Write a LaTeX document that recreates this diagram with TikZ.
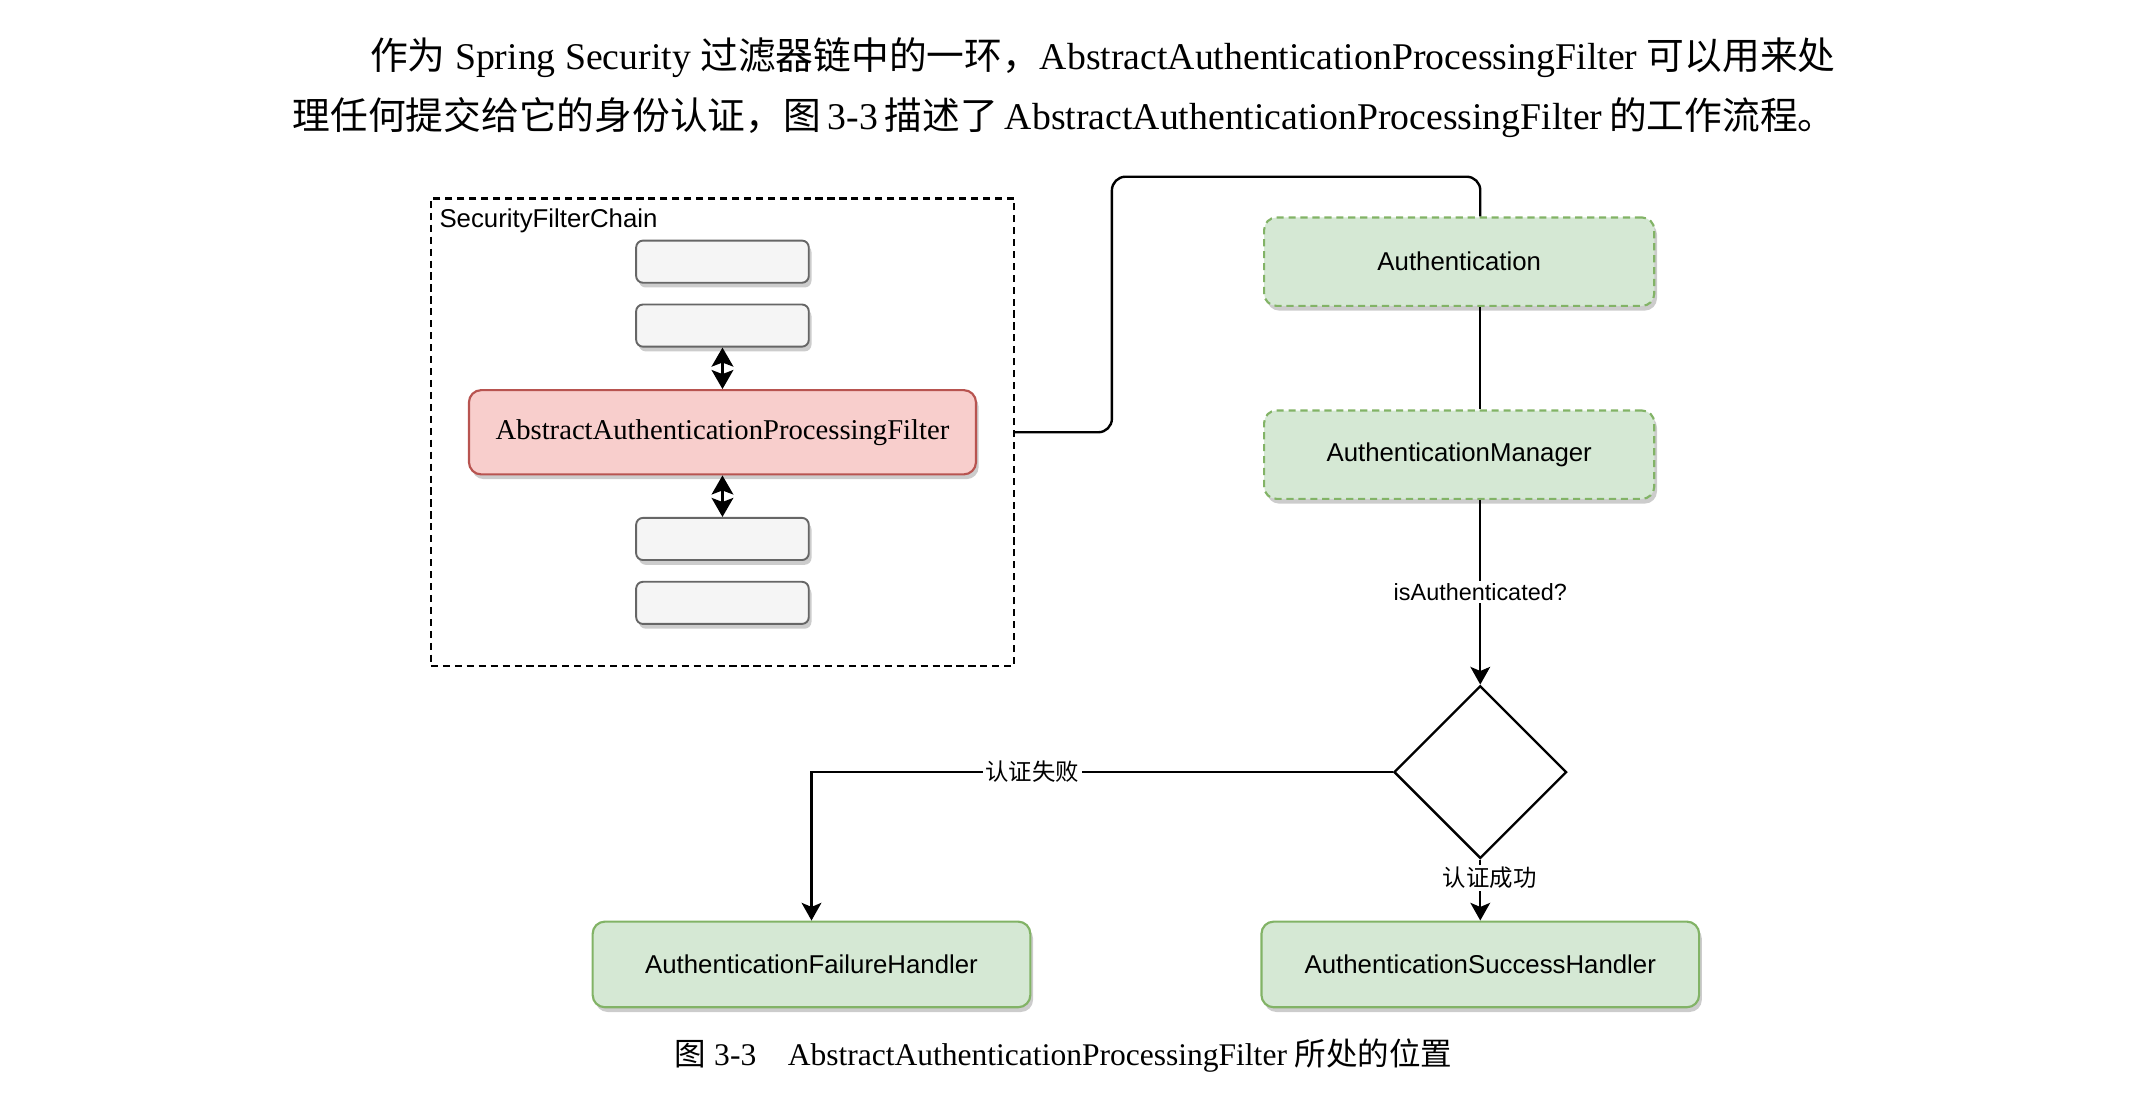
\documentclass[tikz,border=0pt]{standalone}
\usepackage{fontspec}
\setmainfont{Liberation Serif}
\setsansfont{Liberation Sans}
\newfontfamily\cjk{Noto Sans CJK SC}
\usetikzlibrary{arrows.meta,shapes.geometric,shadows}
\definecolor{redfill}{HTML}{F8CECC}
\definecolor{redline}{HTML}{B85450}
\definecolor{greenfill}{HTML}{D5E8D4}
\definecolor{greenline}{HTML}{82B366}
\definecolor{greyfill}{HTML}{F5F5F5}
\definecolor{greyline}{HTML}{666666}
\def\px{0.2mm}

\begin{document}
\begin{tikzpicture}[%
	x=\px, y=-\px,%
	shadowed/.style ={drop shadow={shadow xshift=0.4mm, shadow yshift=-0.7mm, fill=black, opacity=0.2}},%
	para/.style ={inner sep=0pt, font=\fontsize{15.8}{19}\selectfont},%
	filter/.style ={draw=greyline, fill=greyfill, line width=0.8pt, rounded corners=1mm, minimum width=25.4mm, minimum height=6.2mm, inner sep=0pt, shadowed},%
	mainfilter/.style ={draw=redline, fill=redfill, line width=0.9pt, rounded corners=1.8mm, minimum width=74.6mm, minimum height=12.4mm, font=\rmfamily\fontsize{12}{14}\selectfont, shadowed},%
	green/.style ={draw=greenline, fill=greenfill, line width=0.9pt, rounded corners=1.8mm, font=\sffamily\fontsize{10.8}{13}\selectfont, shadowed},%
	handler/.style ={green, minimum width=64.4mm, minimum height=12.6mm},%
	manager/.style ={green, dash pattern=on 3pt off 2pt, minimum width=57.4mm, minimum height=13mm},%
	lbl/.style ={fill=white, inner sep=1pt, font=\sffamily\fontsize{9.8}{12}\selectfont},%
	link/.style ={line width=1pt},%
	arrow/.style ={link, -{Stealth[length=2.6mm, width=2.9mm, inset=0.6mm]}},%
	twoway/.style ={link, {Stealth[length=2.8mm, width=3.2mm, inset=0.6mm]}-{Stealth[length=2.8mm, width=3.2mm, inset=0.6mm]}},%
	]
\useasboundingbox (0,0) rectangle (1567,806.3);
%%% text
	\node [para, anchor=base west] (line1) at (272,51) {\makebox[215.6mm][s]{{\cjk 作为} Spring Security {\cjk 过滤器链中的一环，}AbstractAuthenticationProcessingFilter {\cjk 可以用来处}}};
	\node [para, anchor=base west] (line2) at (215,95) {\makebox[227mm][s]{{\cjk 理任何提交给它的身份认证，图} 3-3 {\cjk 描述了} AbstractAuthenticationProcessingFilter {\cjk 的工作流程。}}};
	\node [para, anchor=base, font=\fontsize{13.2}{16}\selectfont] (caption) at (782.5,784) {{\cjk 图} 3-3\quad AbstractAuthenticationProcessingFilter {\cjk 所处的位置}};
%%% text
%%% chain
	\node [draw, line width=0.9pt, dash pattern=on 3pt off 2pt, minimum width=85.8mm, minimum height=68.8mm] (chain) at (531.5,318) {};
	\node [anchor=west, inner sep=0pt, font=\sffamily\fontsize{10.8}{13}\selectfont] (chainlbl) at (323,162.5) {SecurityFilterChain};
	\foreach \name/\y in {f1/192.5,f2/239.5,f3/396.5,f4/443.5}
		{\node [filter] (\name) at (531.5,\y) {};}
	\node [mainfilter] (aapf) at (531.5,318) {AbstractAuthenticationProcessingFilter};
	\draw [twoway] (f2.south) -- (aapf.north);
	\draw [twoway] (aapf.south) -- (f3.north);
%%% chain
%%% flow
	\node [manager] (auth) at (1073.5,192.5) {Authentication};
	\node [manager] (am) at (1073.5,334.5) {AuthenticationManager};
	\node [draw, line width=1pt, fill=white, diamond, aspect=1, minimum size=25.4mm, inner sep=0pt] (check) at (1089,568) {};
	\node [handler] (fail) at (597,709.5) {AuthenticationFailureHandler};
	\node [handler] (succ) at (1089,709.5) {AuthenticationSuccessHandler};
	\coordinate (bend) at (818,130);
	\coordinate (top) at (1089,130);
	\draw [link, rounded corners=2mm] (chain.east) -| (bend) -- (top) -- (auth.north -| top);
	\draw [link] (auth.south -| top) -- (am.north -| top);
	\draw [arrow] (am.south -| top) -- node [lbl] {isAuthenticated?} (check.north);
	\draw [arrow] (check.west) -| node [lbl, pos=0.31] {{\cjk 认证失败}} (fail.north);
	\draw [arrow] (check.south) -- node [lbl, pos=0.3, xshift=1.4mm] {{\cjk 认证成功}} (succ.north);
%%% flow
\end{tikzpicture}
\end{document}
